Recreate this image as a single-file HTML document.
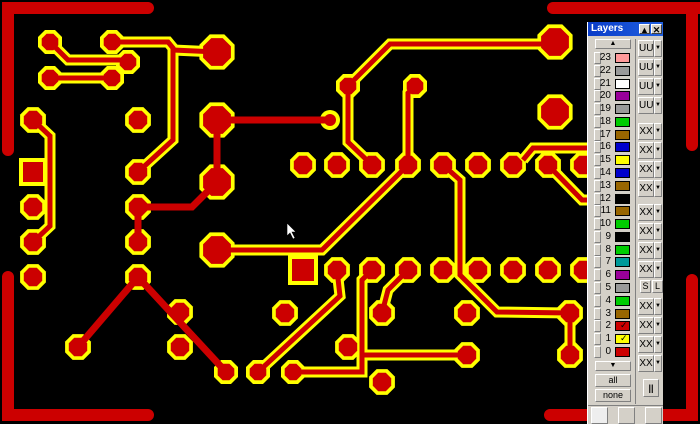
<!DOCTYPE html>
<html><head><meta charset="utf-8"><style>
html,body{margin:0;padding:0;background:#000;width:700px;height:424px;overflow:hidden;font-family:"Liberation Sans",sans-serif}
#b{position:absolute;left:0;top:0}
#p{position:absolute;left:587px;top:22px;width:76px;height:402px;background:#d4d0c8;border-left:1px solid #fff;box-sizing:border-box}
.t{position:absolute;left:0;top:0;width:75px;height:14px;background:#0a246a;background:linear-gradient(90deg,#0a3cc8,#2060e0);color:#fff;font-size:10px;font-weight:bold;line-height:14px;padding-left:3px;box-sizing:border-box}
.tb{position:absolute;top:2px;width:11px;height:10px;background:#d4d0c8;color:#000;font-size:9px;line-height:10px;text-align:center;border:1px solid #fff;border-right-color:#404040;border-bottom-color:#404040;box-sizing:border-box}
.bt{position:absolute;background:#d4d0c8;border:1px solid #fff;border-right-color:#808080;border-bottom-color:#808080;box-sizing:border-box;font-size:9px;text-align:center;color:#000}
.n{position:absolute;font-size:10px;width:12px;text-align:right;color:#000}
.s{position:absolute;left:27px;width:15px;height:10px;border:1px solid #000;box-sizing:border-box}
</style></head><body>
<svg id="b" width="700" height="424"></svg>
<div id="p"></div>
<script>
var S=document.getElementById('b'),out='';
function oct(x,y,r,c){var p=[];for(var k=0;k<8;k++){var a=(22.5+45*k)*Math.PI/180;p.push((x+r*Math.cos(a)).toFixed(1)+','+(y+r*Math.sin(a)).toFixed(1));}return '<polygon points="'+p.join(' ')+'" fill="'+c+'"/>';}
var pads=[[50,42,13],[112,42,13],[128,62,13],[50,78,13],[112,78,13],[217,52,19],
[33,120,14],[33,207,14],[33,242,14],[33,277,14],
[138,120,14],[138,172,14],[138,207,14],[138,242,14],[138,277,14],
[217,120,19],[217,182,19],[217,250,19],
[180,312,14],[180,347,14],[78,347,14],[226,372,13],[258,372,13],[293,372,13],
[348,86,13],[415,86,13],[555,42,19],[555,112,19],
[285,313,14],[348,347,14],[382,313,14],[382,382,14],[467,313,14],[467,355,14],[570,313,14],[570,355,14]];
[303,337,372,408,443,478,513,548,583].forEach(function(x){pads.push([x,165,14]);});
[337,372,408,443,478,513,548,583].forEach(function(x){pads.push([x,270,14]);});
var tr=[[[50,42],[68,60],[128,60]],[[50,78],[112,78]],[[112,42],[168,42],[173,48],[173,140],[138,172]],[[173,50],[217,52]],
[[33,120],[50,136],[50,226],[33,242]],
[[348,86],[390,44],[555,44]],[[348,86],[348,142],[372,165]],[[415,86],[408,93],[408,165]],
[[217,250],[322,250],[408,165]],[[337,270],[340,296],[258,372]],
[[293,372],[362,372],[362,280],[372,270]],[[362,355],[467,355]],[[408,270],[388,290],[382,313]],
[[443,165],[460,180],[460,275],[497,312],[570,313],[570,355]],
[[523,160],[533,148],[590,148]],[[548,165],[582,200],[590,200]]];
function pl(pts,c,w){return '<polyline points="'+pts.map(function(p){return p.join(',')}).join(' ')+'" fill="none" stroke="'+c+'" stroke-width="'+w+'" stroke-linejoin="miter" stroke-linecap="butt"/>';}
tr.forEach(function(t){out+=pl(t,'#ffff00',11);});
pads.forEach(function(p){out+=oct(p[0],p[1],p[2],'#ffff00');});
out+='<rect x="288" y="255" width="30" height="30" fill="#ffff00"/><rect x="19" y="158" width="28" height="28" fill="#ffff00"/>';
out+='<circle cx="330" cy="120" r="10" fill="#ffff00"/><circle cx="330" cy="120" r="6" fill="#cc0000"/>';
tr.forEach(function(t){out+=pl(t,'#cc0000',5);});
pads.forEach(function(p){out+=oct(p[0],p[1],p[2]-4,'#cc0000');});
out+='<rect x="292" y="259" width="22" height="22" fill="#cc0000"/><rect x="23" y="162" width="20" height="20" fill="#cc0000"/>';
var rd=[[[217,120],[330,120]],[[217,120],[217,182]],[[217,182],[192,207],[138,207]],[[138,207],[138,242]],[[138,277],[78,347]],[[138,277],[226,372]]];
rd.forEach(function(t){out+=pl(t,'#cc0000',7);});
var bd=[[[8,150],[8,8],[148,8]],[[8,277],[8,415],[148,415]],[[553,8],[700,8]],[[692,8],[692,145]],[[692,280],[692,415],[550,415]]];
bd.forEach(function(t){out+='<polyline points="'+t.map(function(p){return p.join(',')}).join(' ')+'" fill="none" stroke="#cc0000" stroke-width="12" stroke-linecap="round" stroke-linejoin="miter"/>';});
out+='<path d="M287,223 L287,236 L290,233 L293,239 L295,238 L292,232 L296,232 Z" fill="#fff" stroke="#000" stroke-width="0.6"/>';
S.innerHTML=out;
var P=document.getElementById('p'),h='<div class="t">Layers<div class="tb" style="left:51px">&#9650;</div><div class="tb" style="left:63px">&#10005;</div></div>';
var cols=['#ff9999','#999999','#ffffff','#990099','#999999','#00cc00','#996600','#0000cc','#ffff00','#0000cc','#996600','#000000','#996600','#00cc00','#000000','#00cc00','#009999','#990099','#999999','#00cc00','#996600','#cc0000','#ffff00','#cc0000'];
h+='<div class="bt" style="left:7px;top:17px;width:36px;height:10px;font-size:7px;line-height:8px">&#9650;</div>';
for(var i=0;i<24;i++){var n=23-i,y=30+i*12.78;
h+='<div class="bt" style="left:6px;top:'+(y)+'px;width:7px;height:12px"></div>';
h+='<div class="n" style="left:11px;top:'+(y)+'px">'+n+'</div>';
h+='<div class="s" style="top:'+(y+1)+'px;background:'+cols[i]+'">'+(n==2||n==1?'<span style="font-size:9px;position:absolute;left:4px;top:-2px;color:#000">&#10003;</span>':'')+'</div>';}
h+='<div class="bt" style="left:7px;top:339px;width:36px;height:10px;font-size:7px;line-height:8px">&#9660;</div>';
h+='<div class="bt" style="left:7px;top:352px;width:36px;height:13px;line-height:11px">all</div>';
h+='<div class="bt" style="left:7px;top:367px;width:36px;height:13px;line-height:11px">none</div>';
h+='<div style="position:absolute;left:47px;top:17px;width:1px;height:365px;background:#808080"></div>';
var ry=[18,37,56,75,101,120,139,158,182,201,220,239,276,295,314,333];
ry.forEach(function(y,k){var lab=k<4?'UU':'XX';h+='<div class="bt" style="left:50px;top:'+y+'px;width:16px;height:17px;line-height:15px;font-size:10px">'+lab+'</div><div class="bt" style="left:66px;top:'+y+'px;width:8px;height:17px;font-size:6px;line-height:15px">&#9660;</div>';});
h+='<div class="bt" style="left:52px;top:258px;width:11px;height:13px;line-height:11px">S</div><div class="bt" style="left:64px;top:258px;width:11px;height:13px;line-height:11px">L</div>';
h+='<div class="bt" style="left:55px;top:357px;width:16px;height:18px;line-height:16px;font-weight:bold">||</div>';
h+='<div style="position:absolute;left:0;top:383px;width:75px;height:1px;background:#808080"></div>';
h+='<div class="bt" style="left:3px;top:385px;width:17px;height:17px;background:#eee"></div><div class="bt" style="left:30px;top:385px;width:17px;height:17px"></div><div class="bt" style="left:57px;top:385px;width:17px;height:17px"></div>';
P.innerHTML=h;
</script>
</body></html>
